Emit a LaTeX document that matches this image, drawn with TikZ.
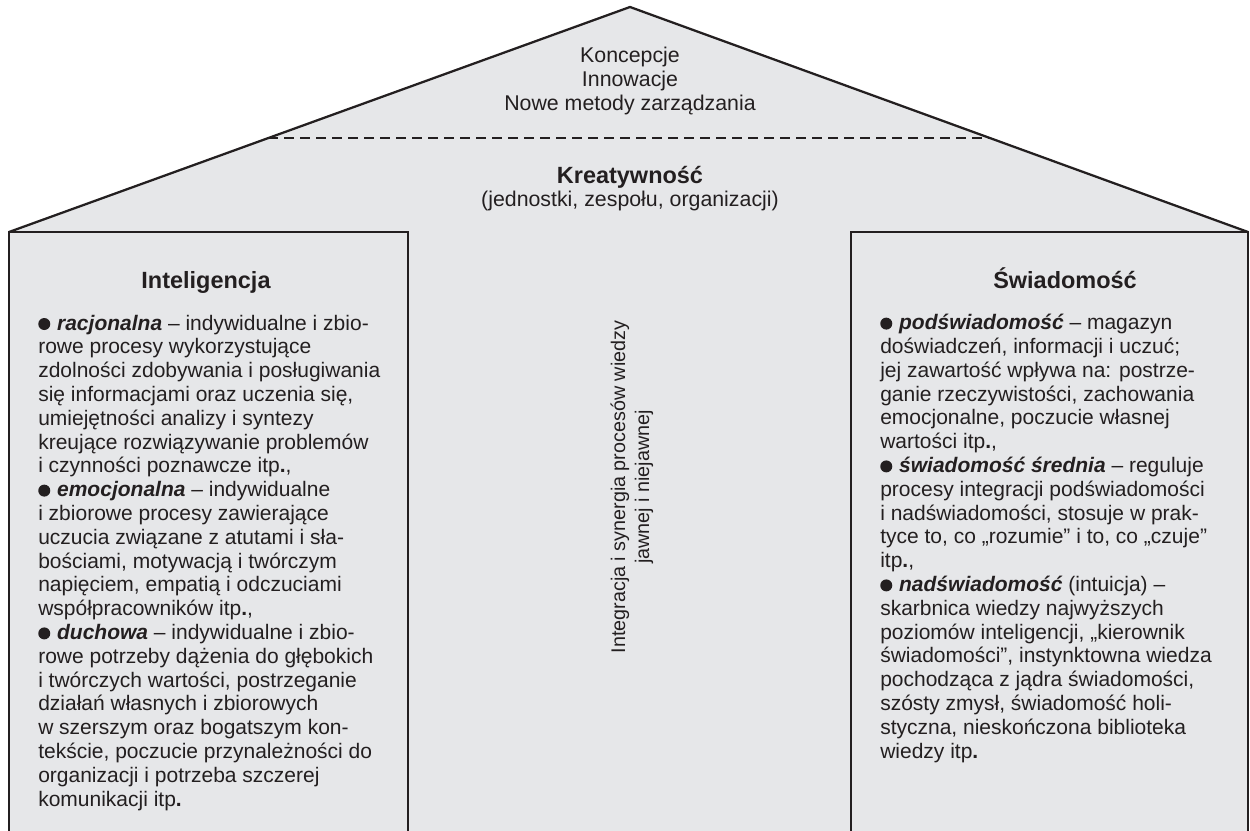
\documentclass[tikz,border=0pt]{standalone}
\usepackage{fontspec}
\setmainfont{Liberation Sans}
\definecolor{housefill}{HTML}{E6E7E9}
\definecolor{ink}{HTML}{231F20}
\newcommand{\blt}{\tikz[baseline=0pt]\fill[ink] (4.5pt,4.5pt) circle[radius=4.5pt];\hspace{0.05em}}
\newcommand{\bi}[1]{\textbf{\textit{#1}}}
\begin{document}
\begin{tikzpicture}[x=0.75pt,y=-0.75pt,
  wall/.style={draw=ink,line width=1.7pt,line join=miter},
  ridge/.style={draw=ink,line width=1.1pt,dash pattern=on 7.5pt off 4.5pt},
  rooftxt/.style={font=\fontsize{16}{18}\selectfont,align=center,text=ink,inner sep=0pt,anchor=base},
  head/.style={font=\bfseries\fontsize{17.6}{20}\selectfont,text=ink,inner sep=0pt,anchor=base},
  body/.style={font=\fontsize{15.75}{17.85}\selectfont,align=left,text=ink,inner sep=0pt,anchor=base west},
  midtxt/.style={font=\fontsize{14.8}{18}\selectfont,align=center,text=ink,inner sep=0pt,rotate=90}]
\useasboundingbox (0,0) rectangle (1250,831);
% corner points
\coordinate (bl) at (9,831);
\coordinate (ll) at (9,232);
\coordinate (apex) at (630,7);
\coordinate (rr) at (1248,232);
\coordinate (br) at (1248,831);
\coordinate (li) at (408,232);
\coordinate (lib) at (408,831);
\coordinate (ri) at (851,232);
\coordinate (rib) at (851,831);
\coordinate (dl) at (268,138);
\coordinate (dr) at (990,138);
% house body
\fill[housefill] (bl) -- (ll) -- (apex) -- (rr) -- (br) -- cycle;
\draw[ridge] (dl) -- (dr);
\draw[wall] (ll) -- (apex) -- (rr);
\draw[wall] (bl) -- (ll) -- (li) -- (lib);
\draw[wall] (rib) -- (ri) -- (rr) -- (br);
% roof texts (anchor = baseline of last line)
\node[rooftxt] (top) at (630,111) {Koncepcje\\Innowacje\\Nowe metody zarządzania};
\node[rooftxt,font=\bfseries\fontsize{17.6}{20}\selectfont] (krea) at (630,184) {Kreatywność};
\node[rooftxt] (kreasub) at (630,207) {(jednostki, zespołu, organizacji)};
% left pillar
\node[head] (intel) at (206,288) {Inteligencja};
\node[body] (intelbody) at (38,806) {\blt{} \bi{racjonalna} – indywidualne i zbio-\\
rowe procesy wykorzystujące\\
zdolności zdobywania i posługiwania\\
się informacjami oraz uczenia się,\\
umiejętności analizy i syntezy\\
kreujące rozwiązywanie problemów\\
i czynności poznawcze itp\textbf{.},\\
\blt{} \bi{emocjonalna} – indywidualne\\
i zbiorowe procesy zawierające\\
uczucia związane z atutami i sła-\\
bościami, motywacją i twórczym\\
napięciem, empatią i odczuciami\\
współpracowników itp\textbf{.},\\
\blt{} \bi{duchowa} – indywidualne i zbio-\\
rowe potrzeby dążenia do głębokich\\
i twórczych wartości, postrzeganie\\
działań własnych i zbiorowych\\
w szerszym oraz bogatszym kon-\\
tekście, poczucie przynależności do\\
organizacji i potrzeba szczerej\\
komunikacji itp\textbf{.}};
% right pillar
\node[head] (swiad) at (1065,288) {Świadomość};
\node[body] (swiadbody) at (880,758) {\blt{} \bi{podświadomość} – magazyn\\
doświadczeń, informacji i uczuć;\\
jej zawartość wpływa na: postrze-\\
ganie rzeczywistości, zachowania\\
emocjonalne, poczucie własnej\\
wartości itp\textbf{.},\\
\blt{} \bi{świadomość średnia} – reguluje\\
procesy integracji podświadomości\\
i nadświadomości, stosuje w prak-\\
tyce to, co „rozumie” i to, co „czuje”\\
itp\textbf{.},\\
\blt{} \bi{nadświadomość} (intuicja) –\\
skarbnica wiedzy najwyższych\\
poziomów inteligencji, „kierownik\\
świadomości”, instynktowna wiedza\\
pochodząca z jądra świadomości,\\
szósty zmysł, świadomość holi-\\
styczna, nieskończona biblioteka\\
wiedzy itp\textbf{.}};
% middle
\node[midtxt] (mid) at (632,487) {Integracja i synergia procesów wiedzy\\jawnej i niejawnej};
\end{tikzpicture}
\end{document}
